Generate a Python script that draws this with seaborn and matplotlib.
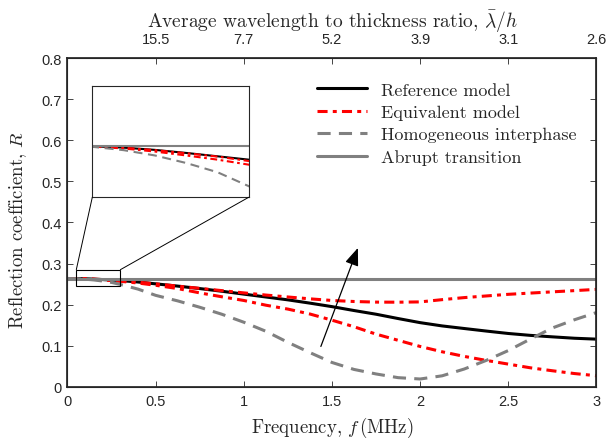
import numpy as np
import pandas as pd
import matplotlib
matplotlib.use('Agg')
import matplotlib.pyplot as plt
from matplotlib.patches import Rectangle, ConnectionPatch
import seaborn as sns

# Dados
freq = [0, 0.05, 0.1, 0.15, 0.2, 0.25, 0.3, 0.4, 0.5, 0.625, 0.75, 0.875, 1.0,
        1.125, 1.25, 1.375, 1.5, 1.625, 1.75, 1.875, 2.0, 2.125, 2.25, 2.375,
        2.5, 2.625, 2.75, 2.875, 3.0]

r_reference = [0.2635, 0.2633, 0.2628, 0.2620, 0.2609, 0.2597, 0.2585, 0.2550,
               0.2505, 0.2450, 0.2390, 0.2325, 0.2255, 0.2185, 0.2115, 0.2035,
               0.1950, 0.1855, 0.1765, 0.1660, 0.1560, 0.1480, 0.1417, 0.1355,
               0.1296, 0.1250, 0.1214, 0.1180, 0.1158]

r_equiv_a = [0.2635, 0.2633, 0.2628, 0.2619, 0.2608, 0.2596, 0.2580, 0.2547,
             0.2505, 0.2450, 0.2395, 0.2340, 0.2285, 0.2232, 0.2185, 0.2140,
             0.2100, 0.2075, 0.2060, 0.2058, 0.2065, 0.2120, 0.2170, 0.2210,
             0.2250, 0.2280, 0.2310, 0.2340, 0.2370]

r_equiv_b = [0.2635, 0.2632, 0.2625, 0.2614, 0.2600, 0.2585, 0.2567, 0.2525,
             0.2470, 0.2390, 0.2285, 0.2190, 0.2100, 0.1985, 0.1890, 0.1770,
             0.1620, 0.1460, 0.1280, 0.1130, 0.0980, 0.0850, 0.0738, 0.0640,
             0.0550, 0.0460, 0.0388, 0.0320, 0.0267]

r_homog = [0.2635, 0.2631, 0.2619, 0.2600, 0.2573, 0.2540, 0.2490, 0.2377,
           0.2225, 0.2090, 0.1935, 0.1765, 0.1570, 0.1350, 0.1080, 0.0830,
           0.0590, 0.0420, 0.0310, 0.0220, 0.0187, 0.0265, 0.0430, 0.0640,
           0.0880, 0.1160, 0.1430, 0.1630, 0.1806]

r_abrupt = 0.2635
freq_ends = [0, 3]

# Eixo superior: razão comprimento de onda / espessura
top_ticks = [0.5, 1.0, 1.5, 2.0, 2.5, 3.0]
top_labels = ['15.5', '7.7', '5.2', '3.9', '3.1', '2.6']

# Região ampliada
inset_xlim = (0.05, 0.3)
inset_ylim = (0.245, 0.285)

# Seta
arrow_start = (1.437, 0.098)
arrow_end = (1.647, 0.338)

sns.set_theme(style="ticks")
plt.rcParams['font.family'] = ['Liberation Sans', 'DejaVu Sans']
plt.rcParams['mathtext.fontset'] = 'cm'
plt.rcParams['axes.unicode_minus'] = False

serif = 'cmr10'
dark = '#262626'
gray = '#808080'
dashdot = (0, (3.3, 1.7, 1.3, 1.7))
dashed = (0, (4.3, 2.7))
label_size = 13.5
tick_size = 10.5

df = pd.DataFrame({'f': freq, 'ref': r_reference, 'eqa': r_equiv_a,
                   'eqb': r_equiv_b, 'hom': r_homog})
df_abrupt = pd.DataFrame({'f': freq_ends, 'R': [r_abrupt] * len(freq_ends)})


def draw_series(ax, lw, legend=True):
    sns.lineplot(data=df, x='f', y='ref', ax=ax, color='black', lw=lw,
                 label='Reference model' if legend else None)
    sns.lineplot(data=df, x='f', y='eqa', ax=ax, color='red', lw=lw,
                 linestyle=dashdot, label='Equivalent model' if legend else None)
    sns.lineplot(data=df, x='f', y='eqb', ax=ax, color='red', lw=lw,
                 linestyle=dashdot)
    sns.lineplot(data=df, x='f', y='hom', ax=ax, color=gray, lw=lw,
                 linestyle=dashed, label='Homogeneous interphase' if legend else None)
    sns.lineplot(data=df_abrupt, x='f', y='R', ax=ax, color=gray, lw=lw,
                 label='Abrupt transition' if legend else None)


fig = plt.figure(figsize=(6.08, 4.39), dpi=100)
ax = fig.add_axes([0.111, 0.1169, 0.870, 0.7481])
draw_series(ax, 2.2)

ax.set_xlim(0, 3)
ax.set_ylim(0, 0.8)
ax.set_xticks([0, 0.5, 1, 1.5, 2, 2.5, 3])
ax.set_xticklabels(['0', '0.5', '1', '1.5', '2', '2.5', '3'])
ax.set_yticks(np.arange(0, 0.81, 0.1))
ax.set_yticklabels(['0', '0.1', '0.2', '0.3', '0.4', '0.5', '0.6', '0.7', '0.8'])
ax.tick_params(direction='in', length=4, width=0.6, labelsize=tick_size,
               colors=dark, right=True, top=False, pad=4)
ax.tick_params(axis='x', pad=5.5)
ax.set_xlabel(r'Frequency, $f\,(\mathrm{MHz})$', family=serif, fontsize=label_size,
              color=dark, labelpad=5)
ax.set_ylabel(r'Reflection coefficient, $R$', family=serif, fontsize=label_size,
              color=dark, labelpad=5)
ax.yaxis.set_label_coords(-0.073, 0.48)
for s in ax.spines.values():
    s.set_color(dark)
    s.set_linewidth(0.8)

ax_top = ax.twiny()
ax_top.set_xlim(0, 3)
ax_top.set_xticks(top_ticks)
ax_top.set_xticklabels(top_labels)
ax_top.tick_params(direction='in', length=4, width=0.6, labelsize=tick_size,
                   colors=dark, pad=8.5)
ax_top.set_xlabel(r'Average wavelength to thickness ratio, $\bar{\lambda}/h$',
                  family=serif, fontsize=14, color=dark, labelpad=4)

leg = ax.legend(loc='upper left', bbox_to_anchor=(0.471, 0.928), frameon=False,
                borderpad=0, borderaxespad=0, handlelength=2.8, handletextpad=0.78,
                labelspacing=0.37, prop={'family': serif, 'size': 13})

ax.annotate('', xy=arrow_end, xytext=arrow_start,
            arrowprops=dict(arrowstyle='-|>,head_length=0.9,head_width=0.35',
                            color='black', lw=0.9, shrinkA=0, shrinkB=0))

ax.add_patch(Rectangle((inset_xlim[0], inset_ylim[0]),
                       inset_xlim[1] - inset_xlim[0], inset_ylim[1] - inset_ylim[0],
                       fill=False, ec='black', lw=0.8, zorder=5))

axins = fig.add_axes([0.1518, 0.5483, 0.2572, 0.2542])
draw_series(axins, 1.5, legend=False)
axins.set_xlim(*inset_xlim)
axins.set_ylim(*inset_ylim)
axins.set_xticks([])
axins.set_yticks([])
axins.set_xlabel('')
axins.set_ylabel('')
for s in axins.spines.values():
    s.set_color(dark)
    s.set_linewidth(0.8)

for xa, xb in [(inset_xlim[0], 0), (inset_xlim[1], 1)]:
    con = ConnectionPatch(xyA=(xa, inset_ylim[1]), coordsA=ax.transData,
                          xyB=(xb, 0), coordsB=axins.transAxes,
                          color='black', lw=0.7)
    fig.add_artist(con)

fig.savefig('out.png', dpi=100)
